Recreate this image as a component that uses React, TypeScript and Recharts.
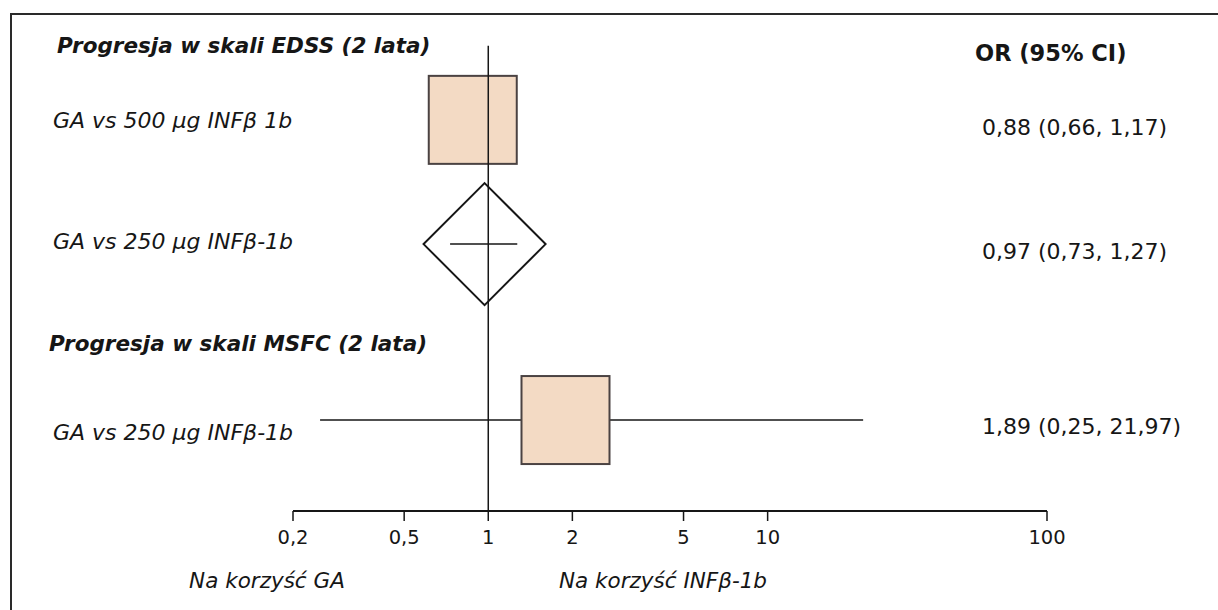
import { ComposedChart, Scatter, XAxis, YAxis, ErrorBar } from 'recharts';

const GROUP_TITLES = ['Progresja w skali EDSS (2 lata)', 'Progresja w skali MSFC (2 lata)'];
const COLUMN_TITLE = 'OR (95% CI)';
const COMPARISONS = ['GA vs 500 µg INFβ 1b', 'GA vs 250 µg INFβ-1b', 'GA vs 250 µg INFβ-1b'];
const ODDS_RATIOS = [0.88, 0.97, 1.89];
const CI_LOWER = [0.66, 0.73, 0.25];
const CI_UPPER = [1.17, 1.27, 21.97];
const MARKERS = ['square', 'diamond', 'square'];
const X_TICKS = [0.2, 0.5, 1, 2, 5, 10, 100];
const NO_EFFECT = 1;
const FAVOURS = ['Na korzyść GA', 'Na korzyść INFβ-1b'];

// layout only: vertical slots on a 0..10 scale, 0 = top of the plot
const ROW_SLOTS = [2.13, 4.63, 8.17];
const TITLE_SLOTS = [0.64, 6.62];
const LABEL_DY = [1, -3, 12];
const VALUE_DY = [8, 7, 6];
const TITLE_X = [57, 49];

const FONT = '"DejaVu Sans", Verdana, sans-serif';
const INK = '#161616';
const BOX_FILL = '#f3dac4';
const BOX_STROKE = '#4a4242';

const fmt = (v: number) => v.toFixed(2).replace('.', ',');

const rows = COMPARISONS.map((label, i) => ({
  or: ODDS_RATIOS[i],
  slot: ROW_SLOTS[i],
  err: [ODDS_RATIOS[i] - CI_LOWER[i], CI_UPPER[i] - ODDS_RATIOS[i]],
  marker: MARKERS[i],
  label,
  value: `${fmt(ODDS_RATIOS[i])} (${fmt(CI_LOWER[i])}, ${fmt(CI_UPPER[i])})`,
  labelDy: LABEL_DY[i],
  valueDy: VALUE_DY[i],
}));

const titles = GROUP_TITLES.map((text, i) => ({
  or: NO_EFFECT,
  slot: TITLE_SLOTS[i],
  text,
  x: TITLE_X[i],
  column: i === 0 ? COLUMN_TITLE : null,
}));

// vertical line of no effect, from the first heading down to the axis
const noEffectLine = [
  { or: NO_EFFECT, slot: TITLE_SLOTS[0] },
  { or: NO_EFFECT, slot: 10 },
];

function MarkerShape(props: any) {
  const { cx, cy, payload } = props;
  if (payload.marker === 'diamond') {
    const r = 61;
    return (
      <polygon
        points={`${cx},${cy - r} ${cx + r},${cy} ${cx},${cy + r} ${cx - r},${cy}`}
        fill="none"
        stroke={INK}
        strokeWidth={2}
      />
    );
  }
  const s = 88;
  return <rect x={cx - s / 2} y={cy - s / 2} width={s} height={s} fill={BOX_FILL} stroke={BOX_STROKE} strokeWidth={2} />;
}

function RowText(props: any) {
  const { cy, payload } = props;
  return (
    <g fontFamily={FONT} fill={INK}>
      <text x={53} y={cy + payload.labelDy} dominantBaseline="central" fontSize={22} fontStyle="italic">
        {payload.label}
      </text>
      <text x={982} y={cy + payload.valueDy} dominantBaseline="central" fontSize={22}>
        {payload.value}
      </text>
    </g>
  );
}

function TitleText(props: any) {
  const { cy, payload } = props;
  return (
    <g fontFamily={FONT} fill={INK} fontWeight="bold">
      <text x={payload.x} y={cy} dominantBaseline="central" fontSize={21.5} fontStyle="italic">
        {payload.text}
      </text>
      {payload.column && (
        <text x={975} y={cy + 7} dominantBaseline="central" fontSize={22.5}>
          {payload.column}
        </text>
      )}
    </g>
  );
}

function FavoursLabels() {
  return (
    <g fontFamily={FONT} fill={INK} fontStyle="italic" fontSize={21.5}>
      <text x={267} y={580} textAnchor="middle" dominantBaseline="central">
        {FAVOURS[0]}
      </text>
      <text x={663} y={580} textAnchor="middle" dominantBaseline="central">
        {FAVOURS[1]}
      </text>
    </g>
  );
}

const Nothing = () => null;

export default function App() {
  return (
    <div style={{ position: 'absolute', left: 0, top: 0, width: 1218, height: 610, background: '#fff' }}>
      <div
        style={{
          position: 'absolute',
          left: 10,
          top: 13,
          width: 1208,
          height: 597,
          borderLeft: '2px solid #2a2a2a',
          borderTop: '2px solid #2a2a2a',
        }}
      />
      <ComposedChart
        width={1218}
        height={610}
        margin={{ top: 14, right: 171, bottom: 39, left: 293 }}
        style={{ position: 'absolute', left: 0, top: 0 }}
      >
        <XAxis
          dataKey="or"
          type="number"
          scale="log"
          domain={[0.2, 100]}
          ticks={X_TICKS}
          tickFormatter={(v: number) => String(v).replace('.', ',')}
          height={60}
          tickSize={10}
          tickMargin={9}
          axisLine={{ stroke: INK, strokeWidth: 2 }}
          tickLine={{ stroke: INK, strokeWidth: 1.5 }}
          tick={{ fontSize: 19.5, fill: INK, fontFamily: FONT }}
          label={{ content: () => <FavoursLabels /> }}
        />
        <YAxis dataKey="slot" type="number" domain={[0, 10]} reversed hide />
        <Scatter data={titles} shape={<TitleText />} isAnimationActive={false} />
        <Scatter data={rows} shape={<RowText />} isAnimationActive={false} />
        <Scatter data={rows} shape={<MarkerShape />} isAnimationActive={false}>
          <ErrorBar dataKey="err" direction="x" width={0} stroke={INK} strokeWidth={1.5} />
        </Scatter>
        <Scatter
          data={noEffectLine}
          line={{ stroke: INK, strokeWidth: 1.5 }}
          shape={<Nothing />}
          isAnimationActive={false}
        />
      </ComposedChart>
    </div>
  );
}
